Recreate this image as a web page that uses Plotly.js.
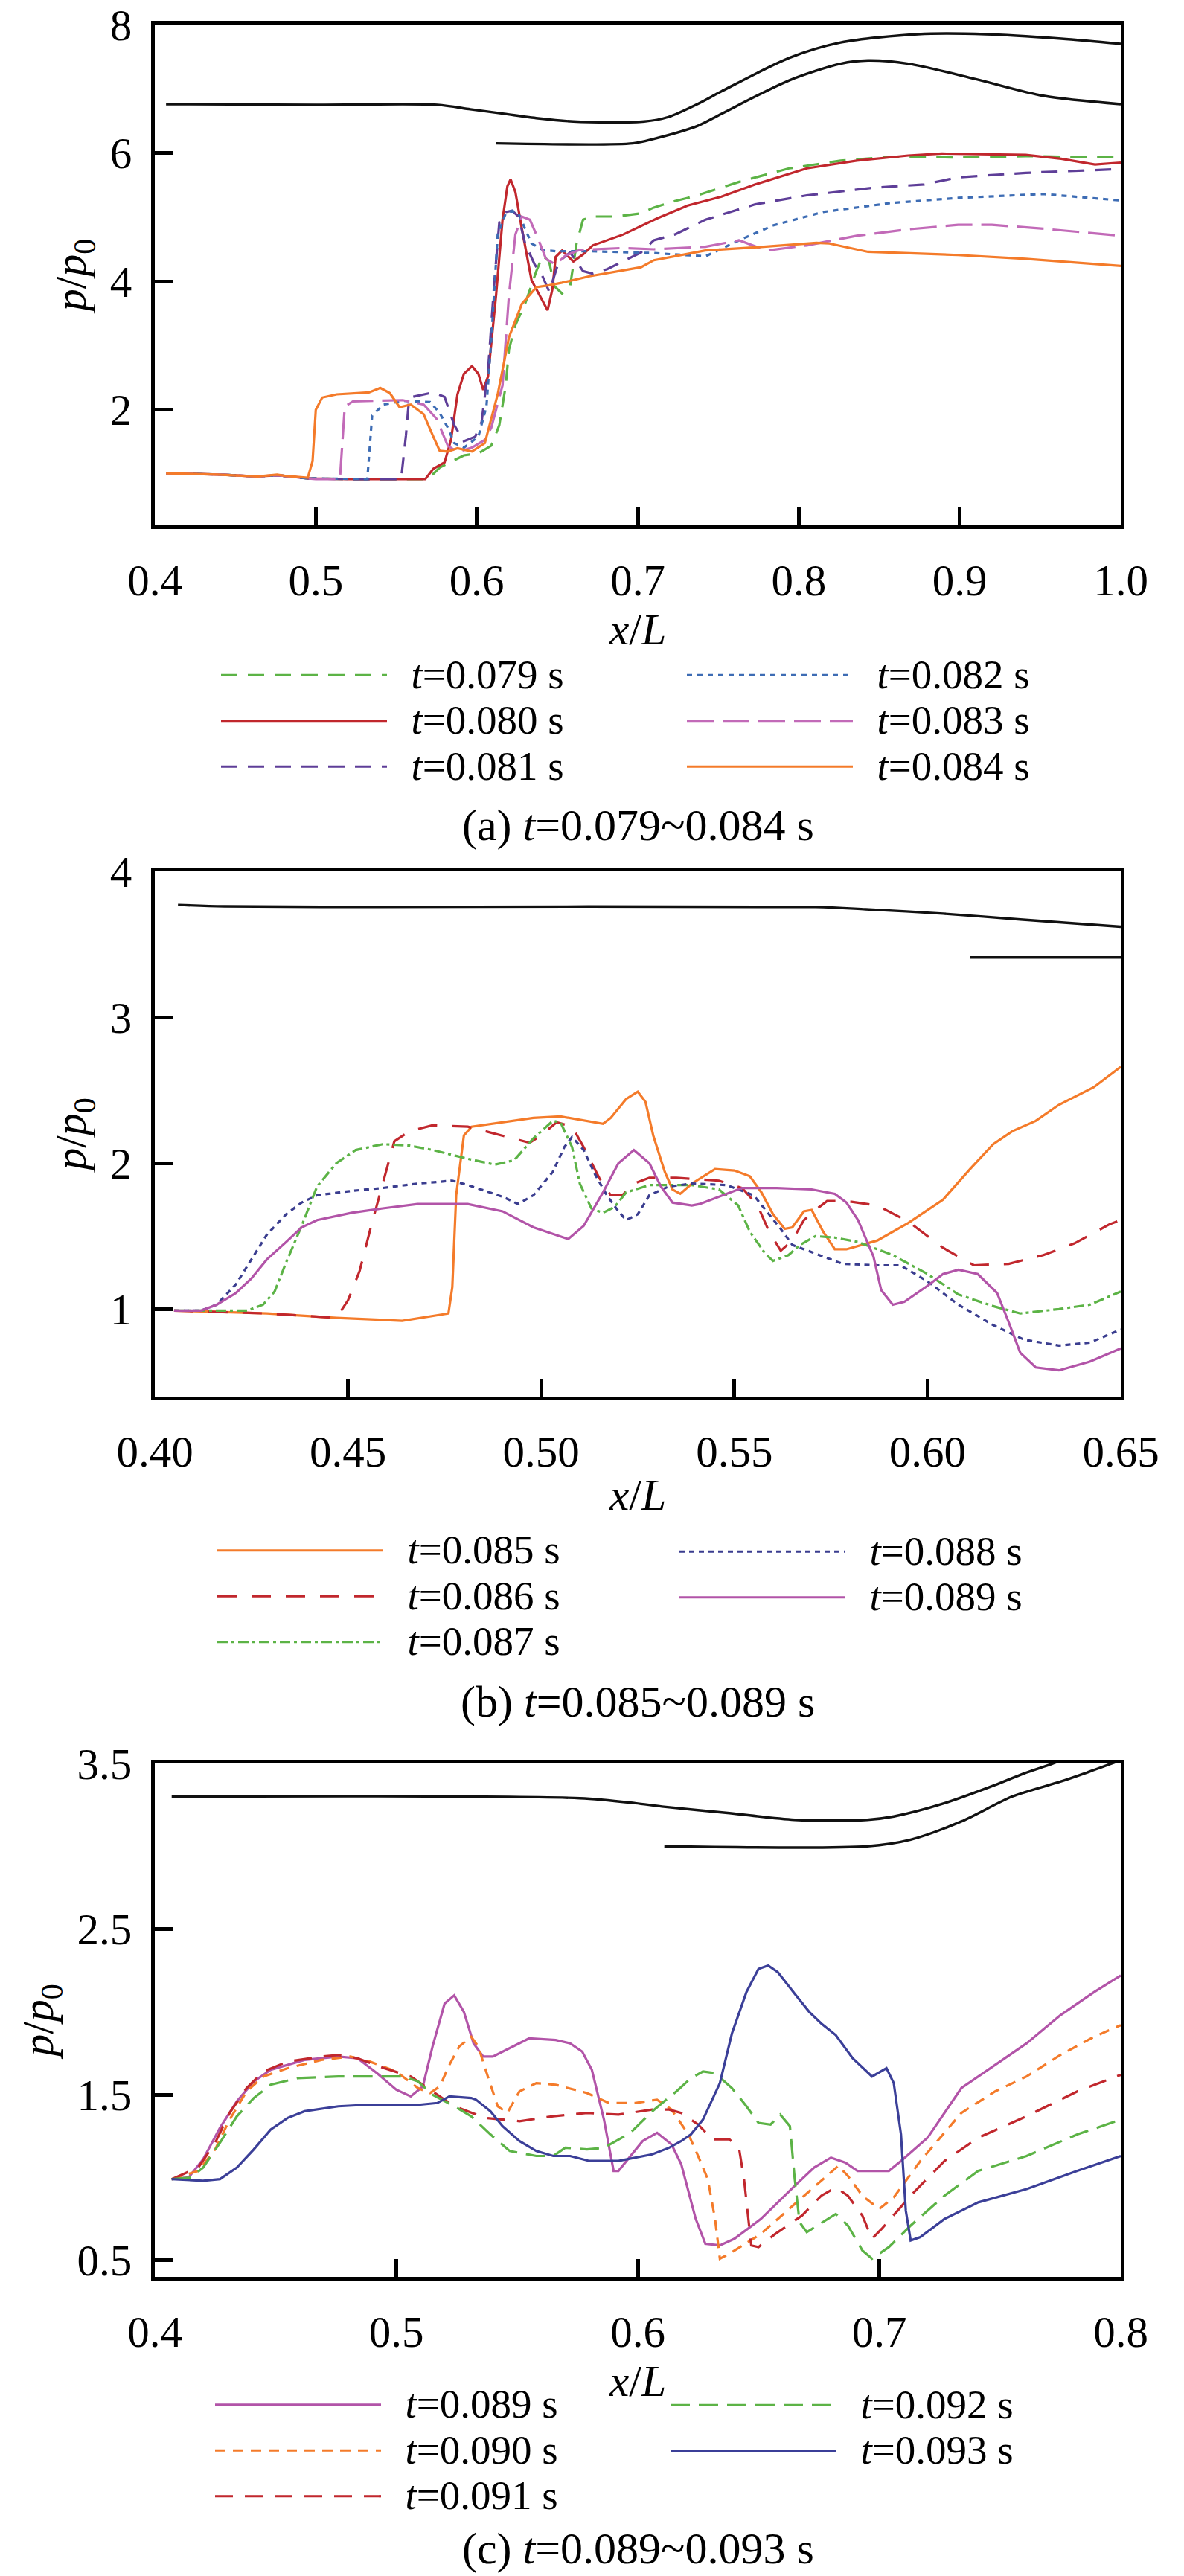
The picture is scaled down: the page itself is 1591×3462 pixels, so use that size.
<!DOCTYPE html>
<html>
<head>
<meta charset="utf-8">
<script src="https://cdn.plot.ly/plotly-3.0.1.min.js"></script>
<style>
  html, body { margin: 0; padding: 0; background: #fff; }
  #chart { width: 1591px; height: 3462px; }
</style>
</head>
<body>
<div id="chart"></div>
<script>
// ---------------- Panel (a): t = 0.079 ~ 0.084 s ----------------
const aTimes = ['0.079', '0.080', '0.081', '0.082', '0.083', '0.084'];
const a079x = [0.407,0.44,0.464,0.476,0.495,0.52,0.568,0.573,0.577,0.592,0.601,0.609,0.614,0.618,0.62,0.624,0.63,0.637,0.641,0.645,0.648,0.653,0.658,0.662,0.666,0.672,0.687,0.702,0.71,0.723,0.731,0.737,0.763,0.794,0.826,0.857,0.899,0.941,1.0];
const a079y = [1.01,0.99,0.96,0.98,0.93,0.92,0.92,1.0,1.1,1.29,1.32,1.44,1.76,2.38,2.94,3.32,3.65,4.16,4.40,4.31,3.93,3.81,3.93,4.59,4.96,5.01,5.01,5.06,5.15,5.25,5.30,5.34,5.55,5.76,5.88,5.94,5.93,5.95,5.93];
const a080x = [0.407,0.44,0.464,0.476,0.495,0.52,0.568,0.573,0.58,0.584,0.588,0.592,0.597,0.601,0.604,0.607,0.612,0.616,0.619,0.621,0.624,0.628,0.634,0.641,0.644,0.647,0.649,0.653,0.66,0.666,0.672,0.691,0.712,0.731,0.752,0.773,0.805,0.836,0.868,0.889,0.941,0.963,0.984,1.0];
const a080y = [1.01,0.99,0.96,0.98,0.93,0.92,0.92,1.08,1.18,1.53,2.24,2.56,2.68,2.56,2.31,2.52,3.79,4.96,5.48,5.59,5.39,4.82,4.02,3.69,3.55,3.88,4.38,4.48,4.31,4.42,4.56,4.73,4.98,5.18,5.32,5.51,5.76,5.88,5.96,5.99,5.97,5.91,5.82,5.85];
const a081x = [0.407,0.44,0.464,0.476,0.495,0.52,0.553,0.556,0.558,0.573,0.58,0.586,0.592,0.599,0.603,0.607,0.611,0.614,0.618,0.622,0.626,0.63,0.636,0.641,0.645,0.651,0.658,0.666,0.672,0.681,0.702,0.71,0.723,0.742,0.773,0.805,0.847,0.878,0.899,0.941,1.0];
const a081y = [1.01,0.99,0.96,0.98,0.93,0.92,0.92,1.6,2.19,2.27,2.2,1.76,1.51,1.58,1.81,2.61,4.02,4.92,5.08,5.10,5.01,4.59,4.26,4.07,3.84,4.31,4.45,4.16,4.12,4.19,4.45,4.64,4.73,4.96,5.2,5.34,5.46,5.51,5.62,5.69,5.75];
const a082x = [0.407,0.44,0.464,0.476,0.495,0.52,0.532,0.535,0.542,0.554,0.571,0.577,0.582,0.586,0.592,0.601,0.606,0.609,0.613,0.618,0.622,0.626,0.630,0.634,0.641,0.649,0.670,0.702,0.71,0.742,0.763,0.784,0.815,0.857,0.899,0.952,0.984,1.0];
const a082y = [1.01,0.99,0.96,0.98,0.93,0.92,0.92,1.91,2.08,2.14,2.12,1.95,1.72,1.48,1.41,1.58,2.05,3.08,4.73,5.06,5.10,5.05,4.82,4.59,4.49,4.47,4.47,4.45,4.44,4.39,4.64,4.87,5.08,5.22,5.30,5.36,5.29,5.26];
const a083x = [0.407,0.44,0.464,0.476,0.495,0.5,0.515,0.518,0.523,0.554,0.567,0.575,0.582,0.588,0.597,0.605,0.609,0.616,0.62,0.624,0.628,0.633,0.637,0.643,0.649,0.655,0.664,0.691,0.71,0.742,0.763,0.78,0.805,0.836,0.868,0.899,0.92,0.952,1.0];
const a083y = [1.01,0.99,0.96,0.98,0.93,0.92,0.92,2.05,2.13,2.15,2.08,1.86,1.44,1.34,1.41,1.53,1.72,2.38,3.79,4.73,5.01,4.96,4.73,4.35,4.26,4.40,4.49,4.52,4.50,4.54,4.64,4.48,4.56,4.71,4.81,4.88,4.88,4.82,4.71];
const a084x = [0.407,0.439,0.464,0.476,0.481,0.495,0.498,0.5,0.504,0.513,0.533,0.54,0.546,0.552,0.559,0.567,0.573,0.577,0.582,0.588,0.597,0.605,0.613,0.62,0.628,0.637,0.645,0.653,0.67,0.702,0.71,0.742,0.773,0.811,0.819,0.843,0.899,0.941,1.0];
const a084y = [1.01,0.99,0.96,0.99,0.97,0.94,1.20,2.0,2.19,2.24,2.27,2.34,2.26,2.04,2.08,1.93,1.58,1.36,1.35,1.40,1.35,1.48,2.24,3.13,3.65,3.91,3.94,3.98,4.08,4.22,4.33,4.48,4.53,4.60,4.59,4.46,4.41,4.35,4.24];
const aWallUpX = [0.407,0.5,0.5755,0.596,0.617,0.638,0.66,0.704,0.719,0.737,0.752,0.794,0.826,0.874,0.916,0.963,1.0];
const aWallUpY = [6.76,6.75,6.75,6.68,6.61,6.54,6.49,6.49,6.56,6.76,6.96,7.48,7.72,7.85,7.85,7.78,7.70];
const aWallLoX = [0.612,0.697,0.71,0.737,0.752,0.794,0.826,0.843,0.868,0.91,0.952,1.0];
const aWallLoY = [6.15,6.15,6.22,6.42,6.61,7.13,7.39,7.44,7.39,7.15,6.89,6.76];
const aXTicks = [0.4,0.5,0.6,0.7,0.8,0.9,1.0];
const aXTickText = ['0.4','0.5','0.6','0.7','0.8','0.9','1.0'];
const aYTicks = [2,4,6,8];
const aYTickText = ['2','4','6','8'];

// ---------------- Panel (b): t = 0.085 ~ 0.089 s ----------------
const bTimes = ['0.085', '0.086', '0.087', '0.088', '0.089'];
const b085x = [0.405,0.429,0.447,0.464,0.476,0.477,0.478,0.48,0.482,0.49,0.498,0.505,0.516,0.518,0.522,0.525,0.527,0.529,0.532,0.534,0.536,0.539,0.545,0.55,0.554,0.557,0.56,0.563,0.565,0.568,0.57,0.573,0.576,0.579,0.587,0.595,0.604,0.611,0.617,0.622,0.628,0.634,0.643,0.65];
const b085y = [0.99,0.97,0.94,0.92,0.97,1.15,1.78,2.19,2.25,2.28,2.31,2.32,2.27,2.31,2.44,2.49,2.42,2.19,1.94,1.82,1.79,1.86,1.96,1.95,1.91,1.80,1.65,1.55,1.56,1.67,1.68,1.53,1.41,1.41,1.47,1.59,1.75,1.96,2.13,2.22,2.29,2.40,2.52,2.66];
const b086x = [0.405,0.429,0.447,0.45,0.453,0.456,0.459,0.462,0.466,0.472,0.481,0.49,0.497,0.5,0.504,0.508,0.511,0.515,0.518,0.521,0.524,0.528,0.535,0.546,0.552,0.556,0.559,0.562,0.565,0.568,0.571,0.574,0.579,0.587,0.595,0.604,0.612,0.621,0.63,0.638,0.647,0.65];
const b086y = [0.99,0.97,0.94,1.06,1.26,1.57,1.86,2.15,2.22,2.26,2.25,2.19,2.14,2.19,2.28,2.25,2.11,1.90,1.78,1.78,1.86,1.90,1.90,1.88,1.83,1.71,1.53,1.40,1.47,1.61,1.68,1.74,1.74,1.71,1.60,1.42,1.30,1.31,1.37,1.45,1.58,1.61];
const b087x = [0.405,0.424,0.428,0.431,0.434,0.438,0.442,0.447,0.452,0.459,0.466,0.472,0.481,0.488,0.493,0.498,0.503,0.505,0.508,0.51,0.513,0.516,0.519,0.522,0.528,0.539,0.546,0.551,0.554,0.558,0.56,0.564,0.567,0.571,0.576,0.582,0.591,0.6,0.608,0.617,0.624,0.634,0.642,0.65];
const b087y = [0.99,0.99,1.03,1.12,1.32,1.57,1.84,2.0,2.09,2.13,2.12,2.09,2.03,1.99,2.02,2.17,2.29,2.28,2.11,1.86,1.69,1.66,1.70,1.80,1.85,1.85,1.82,1.71,1.53,1.38,1.33,1.37,1.44,1.50,1.49,1.46,1.37,1.24,1.10,1.02,0.97,1.0,1.03,1.12];
const b088x = [0.405,0.412,0.416,0.421,0.425,0.429,0.434,0.438,0.442,0.451,0.459,0.468,0.477,0.481,0.49,0.494,0.498,0.503,0.506,0.508,0.511,0.514,0.517,0.52,0.522,0.525,0.528,0.533,0.539,0.548,0.555,0.558,0.562,0.565,0.57,0.578,0.587,0.593,0.6,0.608,0.617,0.625,0.634,0.642,0.65];
const b088y = [0.99,0.99,1.03,1.17,1.34,1.51,1.65,1.73,1.78,1.81,1.83,1.86,1.88,1.85,1.77,1.72,1.78,1.94,2.11,2.18,2.09,1.92,1.78,1.67,1.61,1.65,1.78,1.84,1.86,1.85,1.78,1.68,1.55,1.44,1.39,1.31,1.30,1.30,1.19,1.03,0.89,0.79,0.75,0.77,0.86];
const b089x = [0.405,0.412,0.416,0.421,0.425,0.429,0.434,0.438,0.442,0.451,0.459,0.468,0.481,0.49,0.498,0.507,0.511,0.516,0.52,0.524,0.528,0.531,0.534,0.539,0.541,0.548,0.552,0.561,0.57,0.576,0.579,0.582,0.586,0.588,0.591,0.594,0.6,0.604,0.608,0.613,0.618,0.621,0.624,0.628,0.634,0.642,0.65];
const b089y = [0.99,0.99,1.03,1.11,1.21,1.34,1.46,1.56,1.61,1.66,1.69,1.72,1.72,1.67,1.56,1.48,1.57,1.80,2.0,2.09,2.0,1.84,1.73,1.71,1.72,1.79,1.83,1.83,1.82,1.79,1.73,1.61,1.36,1.13,1.03,1.05,1.16,1.24,1.27,1.24,1.11,0.91,0.70,0.60,0.58,0.64,0.73];
const bWallUpX = [0.406,0.418,0.457,0.571,0.584,0.604,0.624,0.65];
const bWallUpY = [3.77,3.76,3.756,3.756,3.74,3.71,3.67,3.62];
const bWallLoX = [0.611,0.65];
const bWallLoY = [3.41,3.41];
const bXTicks = [0.40,0.45,0.50,0.55,0.60,0.65];
const bXTickText = ['0.40','0.45','0.50','0.55','0.60','0.65'];
const bYTicks = [1,2,3,4];
const bYTickText = ['1','2','3','4'];

// ---------------- Panel (c): t = 0.089 ~ 0.093 s ----------------
const cTimes = ['0.089', '0.090', '0.091', '0.092', '0.093'];
const c089x = [0.407,0.414,0.42,0.427,0.434,0.441,0.448,0.462,0.476,0.484,0.492,0.5,0.506,0.511,0.515,0.52,0.524,0.528,0.532,0.536,0.54,0.548,0.555,0.566,0.572,0.577,0.581,0.586,0.59,0.592,0.597,0.602,0.608,0.614,0.618,0.621,0.624,0.628,0.634,0.64,0.651,0.665,0.673,0.68,0.686,0.691,0.704,0.709,0.72,0.734,0.748,0.761,0.775,0.789,0.8];
const c089y = [0.99,1.0,1.11,1.30,1.46,1.58,1.65,1.71,1.73,1.72,1.63,1.53,1.49,1.55,1.79,2.05,2.10,2.0,1.81,1.73,1.73,1.79,1.84,1.83,1.81,1.76,1.65,1.35,1.04,1.04,1.13,1.22,1.27,1.20,1.08,0.92,0.75,0.60,0.59,0.63,0.75,0.95,1.06,1.12,1.09,1.04,1.04,1.10,1.24,1.54,1.68,1.81,1.98,2.12,2.22];
const c090x = [0.407,0.418,0.425,0.431,0.438,0.445,0.455,0.469,0.481,0.489,0.5,0.509,0.514,0.518,0.522,0.526,0.531,0.534,0.537,0.542,0.546,0.551,0.558,0.566,0.579,0.588,0.599,0.608,0.614,0.621,0.625,0.629,0.632,0.634,0.638,0.651,0.665,0.679,0.683,0.687,0.693,0.7,0.706,0.717,0.734,0.748,0.761,0.775,0.789,0.8];
const c090y = [0.99,1.04,1.17,1.35,1.52,1.61,1.66,1.71,1.73,1.70,1.64,1.54,1.51,1.55,1.68,1.79,1.85,1.79,1.65,1.43,1.39,1.52,1.57,1.56,1.51,1.45,1.45,1.47,1.41,1.26,1.13,0.99,0.75,0.51,0.54,0.66,0.84,1.02,1.07,1.01,0.89,0.81,0.88,1.10,1.39,1.52,1.61,1.74,1.85,1.92];
const c091x = [0.407,0.418,0.425,0.431,0.438,0.445,0.455,0.469,0.476,0.484,0.495,0.506,0.515,0.524,0.537,0.551,0.565,0.579,0.592,0.606,0.613,0.618,0.625,0.631,0.638,0.642,0.644,0.646,0.647,0.65,0.657,0.668,0.676,0.682,0.687,0.693,0.697,0.701,0.713,0.727,0.741,0.761,0.782,0.8];
const c091y = [0.99,1.06,1.21,1.39,1.54,1.64,1.70,1.73,1.74,1.72,1.66,1.61,1.52,1.43,1.36,1.34,1.37,1.39,1.38,1.41,1.41,1.39,1.32,1.23,1.23,1.17,0.99,0.73,0.59,0.58,0.66,0.77,0.89,0.94,0.89,0.77,0.63,0.69,0.89,1.10,1.24,1.37,1.52,1.62];
const c092x = [0.407,0.415,0.42,0.427,0.434,0.441,0.448,0.459,0.476,0.489,0.503,0.509,0.515,0.524,0.531,0.539,0.547,0.558,0.565,0.57,0.579,0.586,0.597,0.606,0.616,0.622,0.627,0.632,0.639,0.645,0.65,0.655,0.659,0.663,0.665,0.667,0.67,0.682,0.687,0.693,0.697,0.704,0.713,0.727,0.741,0.761,0.782,0.8];
const c092y = [0.99,1.0,1.06,1.21,1.37,1.48,1.56,1.60,1.61,1.61,1.61,1.58,1.50,1.43,1.37,1.26,1.16,1.13,1.13,1.18,1.17,1.18,1.27,1.40,1.52,1.60,1.64,1.63,1.54,1.43,1.33,1.32,1.38,1.31,0.99,0.73,0.67,0.78,0.71,0.56,0.51,0.58,0.71,0.89,1.04,1.13,1.26,1.35];
const c093x = [0.407,0.42,0.427,0.434,0.441,0.448,0.455,0.462,0.476,0.489,0.51,0.517,0.522,0.531,0.533,0.539,0.544,0.551,0.558,0.565,0.572,0.58,0.592,0.606,0.613,0.618,0.622,0.627,0.634,0.639,0.645,0.65,0.654,0.658,0.665,0.671,0.676,0.682,0.689,0.697,0.703,0.706,0.709,0.711,0.713,0.717,0.727,0.741,0.761,0.782,0.8];
const c093y = [0.99,0.98,0.99,1.06,1.17,1.29,1.36,1.40,1.43,1.44,1.44,1.45,1.49,1.48,1.47,1.40,1.31,1.22,1.16,1.13,1.13,1.10,1.10,1.14,1.18,1.22,1.26,1.35,1.57,1.87,2.12,2.26,2.28,2.24,2.11,2.0,1.93,1.86,1.72,1.61,1.66,1.57,1.26,0.80,0.62,0.64,0.75,0.85,0.93,1.04,1.13];
const cWallUpX = [0.407,0.576,0.599,0.61,0.638,0.665,0.695,0.706,0.727,0.748,0.76,0.772,0.78];
const cWallUpY = [3.30,3.29,3.26,3.24,3.20,3.16,3.16,3.18,3.26,3.37,3.44,3.5,3.55];
const cWallLoX = [0.611,0.695,0.713,0.734,0.755,0.775,0.785,0.8];
const cWallLoY = [3.0,3.0,3.04,3.15,3.30,3.39,3.44,3.52];
const cXTicks = [0.4,0.5,0.6,0.7,0.8];
const cXTickText = ['0.4','0.5','0.6','0.7','0.8'];
const cYTicks = [0.5,1.5,2.5,3.5];
const cYTickText = ['0.5','1.5','2.5','3.5'];

// ---------------- styling ----------------
const FONT = '"Liberation Serif", "Times New Roman", Times, serif';
const C = {
  green: '#5cb346', red: '#c1272d', purple: '#5e3e98', blue: '#3d6cb4',
  pink: '#c26ab8', orange: '#f47b2a', navyDot: '#3a3d8f', magenta: '#b254a8', navy: '#3b3f98'
};
const LW = 3.2;

function label(t) {
  return '<span style="font-size:55px">\u00a0\u00a0<i>t</i>=' + t + ' s</span>';
}
function curve(x, y, color, dash, t, ax, legend) {
  return {
    type: 'scatter', mode: 'lines', x: x, y: y,
    name: label(t), legend: legend, showlegend: true,
    xaxis: 'x' + ax, yaxis: 'y' + ax,
    line: { color: color, width: LW, dash: dash },
    hoverinfo: 'skip'
  };
}
function wall(x, y, ax) {
  return {
    type: 'scatter', mode: 'lines', x: x, y: y, showlegend: false,
    xaxis: 'x' + ax, yaxis: 'y' + ax,
    line: { color: '#111', width: 3.4, shape: 'spline', smoothing: 0.8 }, hoverinfo: 'skip'
  };
}

const traces = [
  wall(aWallUpX, aWallUpY, ''), wall(aWallLoX, aWallLoY, ''),
  curve(a079x, a079y, C.green, '22px,14px', aTimes[0], '', 'legend'),
  curve(a080x, a080y, C.red, 'solid', aTimes[1], '', 'legend'),
  curve(a081x, a081y, C.purple, '22px,14px', aTimes[2], '', 'legend'),
  curve(a082x, a082y, C.blue, '7px,7px', aTimes[3], '', 'legend2'),
  curve(a083x, a083y, C.pink, '36px,12px', aTimes[4], '', 'legend2'),
  curve(a084x, a084y, C.orange, 'solid', aTimes[5], '', 'legend2'),

  wall(bWallUpX, bWallUpY, '2'), wall(bWallLoX, bWallLoY, '2'),
  curve(b085x, b085y, C.orange, 'solid', bTimes[0], '2', 'legend3'),
  curve(b086x, b086y, C.red, '26px,20px', bTimes[1], '2', 'legend3'),
  curve(b087x, b087y, C.green, '14px,5px,4px,5px', bTimes[2], '2', 'legend3'),
  curve(b088x, b088y, C.navyDot, '7px,6px', bTimes[3], '2', 'legend4'),
  curve(b089x, b089y, C.magenta, 'solid', bTimes[4], '2', 'legend4'),

  wall(cWallUpX, cWallUpY, '3'), wall(cWallLoX, cWallLoY, '3'),
  curve(c089x, c089y, C.magenta, 'solid', cTimes[0], '3', 'legend5'),
  curve(c090x, c090y, C.orange, '14px,10px', cTimes[1], '3', 'legend5'),
  curve(c091x, c091y, C.red, '24px,16px', cTimes[2], '3', 'legend5'),
  curve(c092x, c092y, C.green, '26px,12px', cTimes[3], '3', 'legend6'),
  curve(c093x, c093y, C.navy, 'solid', cTimes[4], '3', 'legend6')
];

const W = 1591, H = 3462;
const px = v => v / W;
const py = v => 1 - v / H;

function xAxis(range, ticks, text, anchor) {
  return {
    domain: [px(208), px(1506)], range: range, anchor: anchor,
    tickmode: 'array', tickvals: ticks, ticktext: text,
    showline: true, linewidth: 5, linecolor: '#000', mirror: true,
    ticks: 'inside', ticklen: 24, tickwidth: 5, tickcolor: '#000',
    showgrid: false, zeroline: false, automargin: false,
    ticklabelstandoff: 18,
    tickfont: { family: FONT, size: 59, color: '#000' },
    title: { text: '<i>x</i>/<i>L</i>', font: { family: FONT, size: 60, color: '#000' }, standoff: 6 }
  };
}
function yAxis(topPx, botPx, range, ticks, text, anchor) {
  return {
    domain: [py(botPx), py(topPx)], range: range, anchor: anchor,
    tickmode: 'array', tickvals: ticks, ticktext: text,
    showline: true, linewidth: 5, linecolor: '#000', mirror: true,
    ticks: 'inside', ticklen: 24, tickwidth: 5, tickcolor: '#000',
    showgrid: false, zeroline: false, automargin: false,
    ticklabelstandoff: 14,
    tickfont: { family: FONT, size: 59, color: '#000' },
    title: { text: '<i>p</i>/<i>p</i><sub>0</sub>', font: { family: FONT, size: 60, color: '#000' }, standoff: 14 }
  };
}
function leg(xPx, yMidPx) {
  return {
    x: px(xPx), y: py(yMidPx), xanchor: 'left', yanchor: 'middle',
    orientation: 'v', bgcolor: 'rgba(0,0,0,0)', borderwidth: 0,
    font: { family: FONT, size: 45, color: '#000' },
    itemwidth: 223, tracegroupgap: 0, traceorder: 'normal',
    itemclick: false, itemdoubleclick: false
  };
}
function caption(text, yPx) {
  return {
    xref: 'paper', yref: 'paper', x: px(857), y: py(yPx),
    xanchor: 'center', yanchor: 'middle', showarrow: false,
    text: text, font: { family: FONT, size: 60, color: '#000' }
  };
}

const layout = {
  width: W, height: H,
  margin: { l: 0, r: 0, t: 0, b: 0 },
  paper_bgcolor: '#fff', plot_bgcolor: '#fff',
  font: { family: FONT, color: '#000' },
  xaxis: xAxis([0.4, 1.0], aXTicks, aXTickText, 'y'),
  yaxis: yAxis(33, 706, [0.2, 8], aYTicks, aYTickText, 'x'),
  xaxis2: xAxis([0.4, 0.65], bXTicks, bXTickText, 'y2'),
  yaxis2: yAxis(1171, 1877, [0.4, 4], bYTicks, bYTickText, 'x2'),
  xaxis3: xAxis([0.4, 0.8], cXTicks, cXTickText, 'y3'),
  yaxis3: yAxis(2370, 3060, [0.4, 3.5], cYTicks, cYTickText, 'x3'),
  legend: leg(292, 969),
  legend2: leg(918, 969),
  legend3: leg(287, 2145.5),
  legend4: leg(908, 2116),
  legend5: leg(284, 3293.5),
  legend6: leg(896, 3263),
  annotations: [
    caption('(a) <i>t</i>=0.079~0.084 s', 1109),
    caption('(b) <i>t</i>=0.085~0.089 s', 2287),
    caption('(c) <i>t</i>=0.089~0.093 s', 3425)
  ],
  showlegend: true
};

Plotly.newPlot('chart', traces, layout, { staticPlot: true, displayModeBar: false });
</script>
</body>
</html>
